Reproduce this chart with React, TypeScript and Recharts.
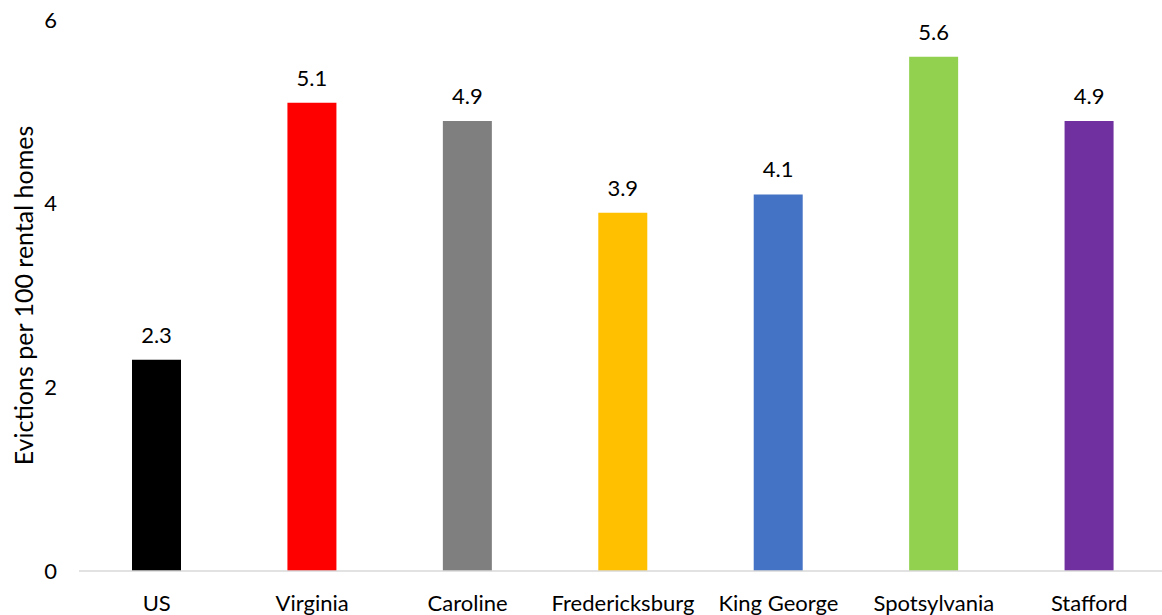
import { Bar, BarChart, Cell, LabelList, XAxis, YAxis } from 'recharts';

const categories = [
  'US',
  'Virginia',
  'Caroline',
  'Fredericksburg',
  'King George',
  'Spotsylvania',
  'Stafford',
];

const evictionRates = [2.3, 5.1, 4.9, 3.9, 4.1, 5.6, 4.9];

const yTicks = [0, 2, 4, 6];

const barColors = ['#000000', '#FF0000', '#7F7F7F', '#FFC000', '#4472C4', '#92D050', '#7030A0'];

const rows = categories.map((name, i) => ({ name, value: evictionRates[i] }));

const fontFamily = 'Lato, "Open Sans", sans-serif';

function YTitle(props: any) {
  const vb = props.viewBox || { y: 0, height: 0 };
  const cy = vb.y + vb.height / 2;
  return (
    <text
      x={23}
      y={cy}
      transform={`rotate(-90, 23, ${cy})`}
      textAnchor="middle"
      dominantBaseline="central"
      fill="#000"
      fontSize={25}
      fontFamily={fontFamily}
    >
      Evictions per 100 rental homes
    </text>
  );
}

export default function App() {
  return (
    <div
      style={{
        position: 'absolute',
        left: 0,
        top: 0,
        width: 1162,
        height: 615,
        overflow: 'hidden',
        background: '#fff',
      }}
    >
      <BarChart
        width={1170}
        height={615}
        data={rows}
        margin={{ top: 20, right: 3, bottom: 0, left: 0 }}
      >
        <XAxis
          dataKey="name"
          height={44}
          tickLine={false}
          tickMargin={18}
          axisLine={{ stroke: '#D9D9D9', strokeWidth: 1.5 }}
          tick={{ fill: '#000', fontSize: 22, fontFamily }}
          interval={0}
        />
        <YAxis
          width={79}
          domain={[0, 6]}
          ticks={yTicks}
          axisLine={false}
          tickLine={false}
          tickMargin={16}
          tick={{ fill: '#000', fontSize: 22, fontFamily }}
          label={<YTitle />}
        />
        <Bar dataKey="value" barSize={49} isAnimationActive={false}>
          {rows.map((r, i) => (
            <Cell key={r.name} fill={barColors[i]} />
          ))}
          <LabelList
            dataKey="value"
            position="top"
            offset={17}
            fill="#000"
            fontSize={22}
            fontFamily={fontFamily}
          />
        </Bar>
      </BarChart>
    </div>
  );
}
